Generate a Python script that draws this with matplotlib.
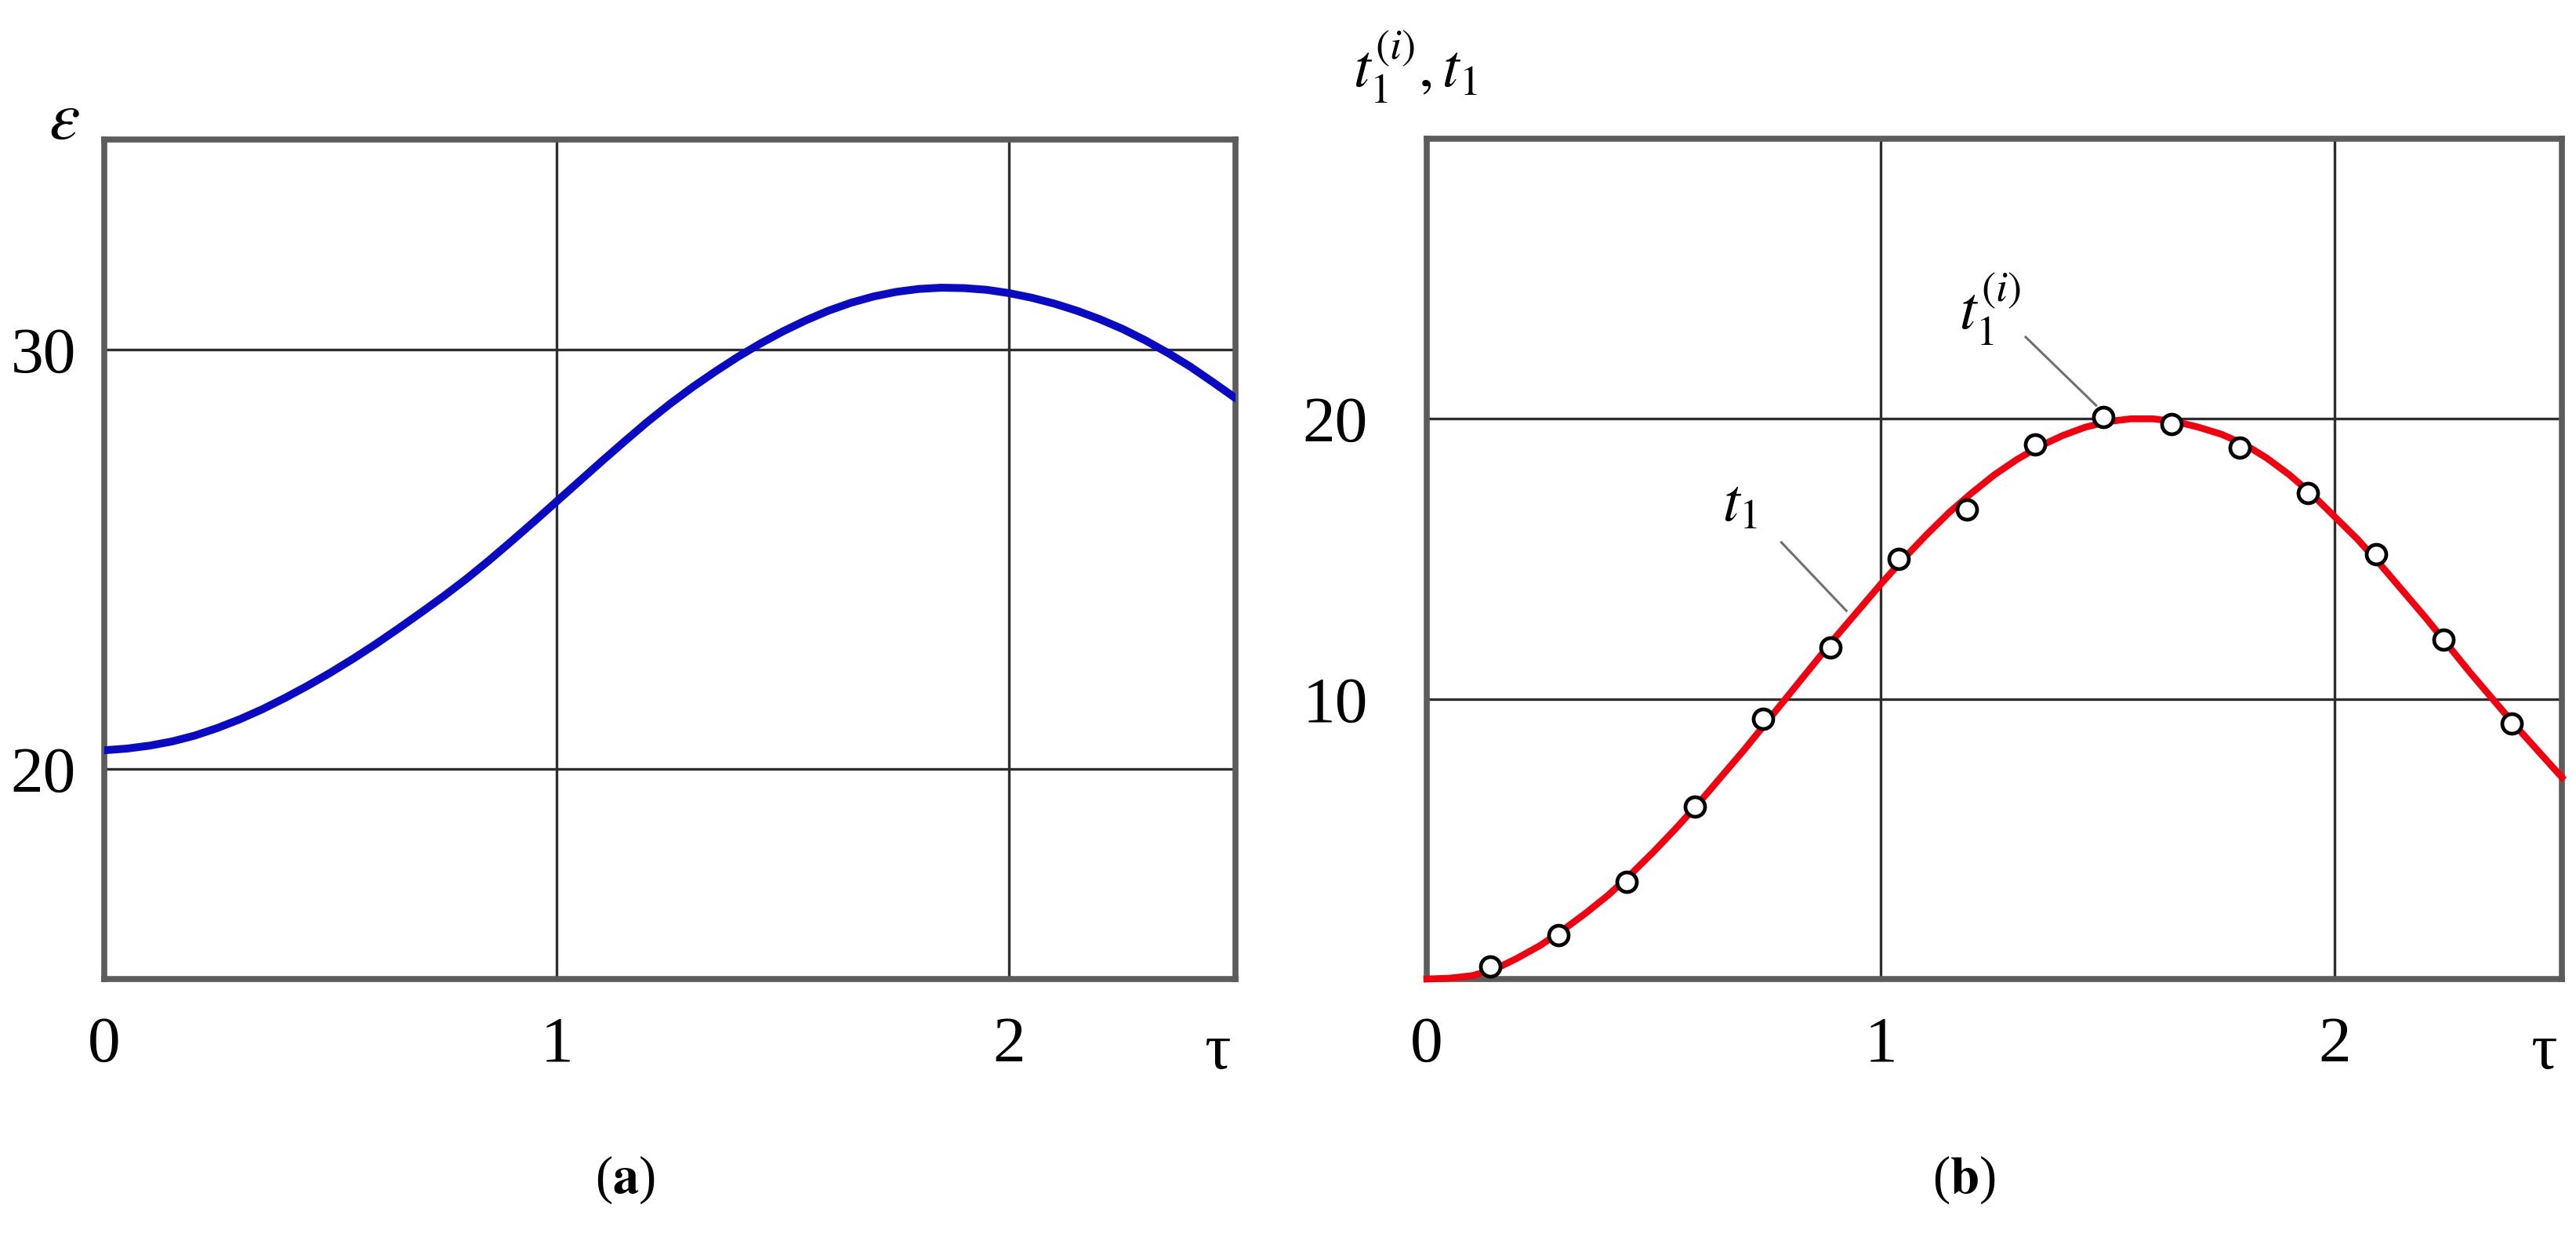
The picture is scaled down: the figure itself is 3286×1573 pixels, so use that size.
import matplotlib
matplotlib.use("Agg")
import matplotlib.pyplot as plt

# ---------------- data ----------------
tau_a = [0.0, 0.05, 0.1, 0.15, 0.2, 0.25, 0.3, 0.35, 0.4, 0.45, 0.5, 0.55,
         0.6, 0.65, 0.7, 0.75, 0.8, 0.85, 0.9, 0.95, 1.0, 1.05, 1.1, 1.15,
         1.2, 1.25, 1.3, 1.35, 1.4, 1.45, 1.5, 1.55, 1.6, 1.65, 1.7, 1.75,
         1.8, 1.85, 1.9, 1.95, 2.0, 2.05, 2.1, 2.15, 2.2, 2.25, 2.3, 2.35,
         2.4, 2.45, 2.5]
eps = [20.45, 20.49, 20.56, 20.66, 20.80, 20.98, 21.19, 21.43, 21.70, 21.99,
       22.30, 22.63, 22.98, 23.35, 23.73, 24.12, 24.53, 24.97, 25.43, 25.90,
       26.38, 26.86, 27.34, 27.81, 28.27, 28.70, 29.10, 29.47, 29.82, 30.14,
       30.43, 30.69, 30.92, 31.11, 31.26, 31.37, 31.44, 31.47, 31.46, 31.42,
       31.34, 31.23, 31.09, 30.92, 30.72, 30.49, 30.22, 29.92, 29.59, 29.22,
       28.84]

tau_b = [0.0, 0.05, 0.1, 0.15, 0.2, 0.25, 0.3, 0.35, 0.4, 0.45, 0.5, 0.55,
         0.6, 0.65, 0.7, 0.75, 0.8, 0.85, 0.9, 0.95, 1.0, 1.05, 1.1, 1.15,
         1.2, 1.25, 1.3, 1.35, 1.4, 1.45, 1.5, 1.55, 1.6, 1.65, 1.7, 1.75,
         1.8, 1.85, 1.9, 1.95, 2.0, 2.05, 2.1, 2.15, 2.2, 2.25, 2.3, 2.35,
         2.4, 2.45, 2.5]
t1 = [0.0, 0.03, 0.12, 0.35, 0.75, 1.2, 1.75, 2.35, 3.0, 3.75, 4.55, 5.4,
      6.3, 7.25, 8.2, 9.2, 10.2, 11.2, 12.2, 13.15, 14.1, 15.0, 15.85, 16.65,
      17.35, 18.0, 18.55, 19.02, 19.4, 19.7, 19.9, 20.0, 20.0, 19.9, 19.7,
      19.45, 19.1, 18.6, 18.0, 17.3, 16.5, 15.7, 14.8, 13.85, 12.9, 11.9,
      10.9, 9.95, 9.0, 8.1, 7.2]

tau_pts = [0.14, 0.29, 0.44, 0.59, 0.74, 0.89, 1.04, 1.19, 1.34, 1.49, 1.64,
           1.79, 1.94, 2.09, 2.24, 2.39]
t1_pts = [0.46, 1.58, 3.46, 6.15, 9.30, 11.84, 14.99, 16.76, 19.08, 20.06,
          19.82, 18.98, 17.34, 15.18, 12.11, 9.13]

xticks = [0, 1, 2]
yticks_a = [20, 30]
yticks_b = [10, 20]

# ---------------- style ----------------
plt.rcParams['mathtext.fontset'] = 'stix'
plt.rcParams['font.family'] = ['Liberation Serif', 'DejaVu Serif']

W, H = 3287, 1573
fig = plt.figure(figsize=(W / 100, H / 100), dpi=100)

def fx(px):
    return px / W

def fy(py):
    return 1 - py / H

SPINE_C = '#5c5c5c'
GRID_C = '#2e2e2e'
TICK_FS = 60

def style_axes(ax, yticks, ypad):
    for s in ax.spines.values():
        s.set_color(SPINE_C)
        s.set_linewidth(5.5)
    ax.set_xticks(xticks)
    ax.set_yticks(yticks)
    ax.tick_params(length=0, labelsize=TICK_FS)
    ax.tick_params(axis='x', pad=34)
    ax.tick_params(axis='y', pad=ypad)
    ax.grid(True, color=GRID_C, linewidth=2.4)
    ax.set_axisbelow(True)

# ---------------- panel (a) ----------------
axa = fig.add_axes([fx(133), fy(1249), fx(1576) - fx(133), fy(178) - fy(1249)])
axa.set_xlim(0, 2.5)
axa.set_ylim(15, 35)
style_axes(axa, yticks_a, 26)
axa.plot(tau_a, eps, color='#0a0ac4', linewidth=7.2, solid_capstyle='round',
         solid_joinstyle='round', zorder=3)
axa.text(2.46, -0.088, 'τ', transform=axa.get_xaxis_transform(),
         ha='center', va='center', fontsize=TICK_FS)
fig.text(fx(82), fy(155), r'$\varepsilon$', ha='center', va='center',
         fontsize=64)

# ---------------- panel (b) ----------------
axb = fig.add_axes([fx(1820), fy(1249), fx(3268) - fx(1820), fy(177) - fy(1249)])
axb.set_xlim(0, 2.5)
axb.set_ylim(0, 30)
style_axes(axb, yticks_b, 54)
axb.plot(tau_b, t1, color='#f20010', linewidth=6.2, zorder=3, clip_on=False,
         solid_joinstyle='round')
axb.plot(tau_pts, t1_pts, linestyle='none', marker='o', markersize=18,
         markerfacecolor='white', markeredgecolor='black',
         markeredgewidth=3.4, zorder=4)
axb.text(2.46, -0.088, 'τ', transform=axb.get_xaxis_transform(),
         ha='center', va='center', fontsize=TICK_FS)

# annotations
axb.plot([0.781, 0.924], [15.59, 13.15], color='#707070', linewidth=2.2,
         zorder=5)
axb.text(0.69, 16.9, r'$t_{\mathit{1}}$', ha='center', va='center',
         fontsize=56)
axb.plot([1.319, 1.474], [22.92, 20.48], color='#707070', linewidth=2.2,
         zorder=5)
axb.text(1.24, 23.9, r'$t_{\mathit{1}}^{(\mathit{i})}$', ha='center',
         va='center', fontsize=56)

fig.text(fx(1805), fy(85), r'$t_{\mathit{1}}^{(\mathit{i})}, t_{\mathit{1}}$',
         ha='center', va='center', fontsize=56)

# captions
fig.text(fx(797), fy(1505), r'($\mathbf{a}$)', ha='center', va='center',
         fontsize=48)
fig.text(fx(2505), fy(1505), r'($\mathbf{b}$)', ha='center', va='center',
         fontsize=48)

fig.savefig('out.png', dpi=100, facecolor='white')
